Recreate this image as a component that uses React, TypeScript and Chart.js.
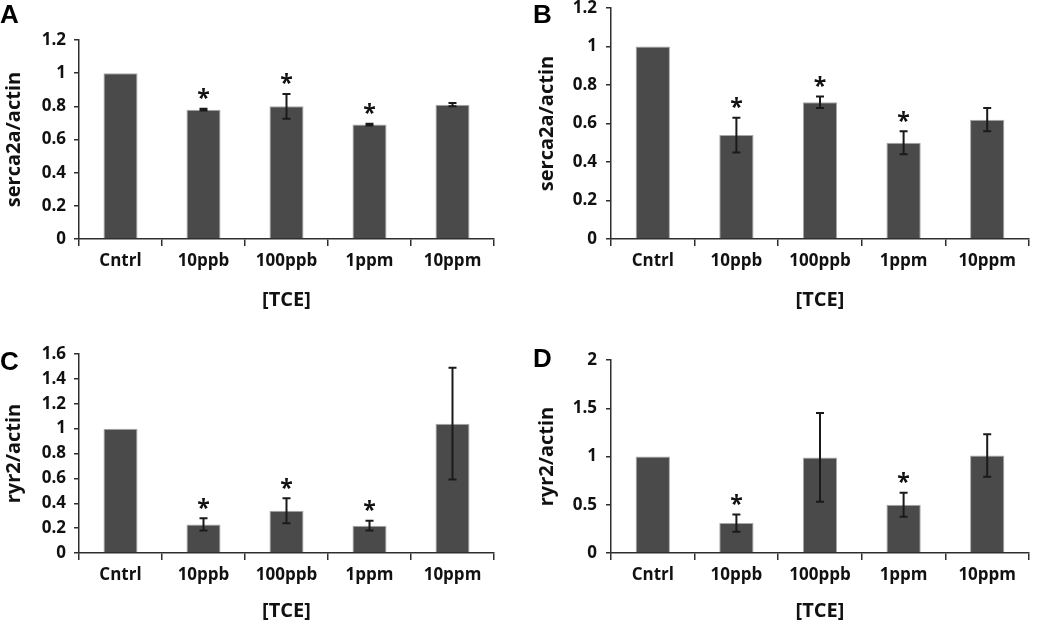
import React, { useEffect, useRef } from "react";
import { Chart, registerables } from "chart.js";

Chart.register(...registerables);

const categories = ["Cntrl", "10ppb", "100ppb", "1ppm", "10ppm"];

const serca2aA = [1.0, 0.78, 0.8, 0.69, 0.81];
const serca2aAErr = [0, 0.005, 0.075, 0.005, 0.01];
const serca2aASig = [false, true, true, true, false];

const serca2aB = [1.0, 0.54, 0.71, 0.5, 0.62];
const serca2aBErr = [0, 0.09, 0.03, 0.06, 0.06];
const serca2aBSig = [false, true, true, true, false];

const ryr2C = [1.0, 0.23, 0.34, 0.22, 1.04];
const ryr2CErr = [0, 0.05, 0.1, 0.04, 0.45];
const ryr2CSig = [false, true, true, true, false];

const ryr2D = [1.0, 0.31, 0.99, 0.5, 1.01];
const ryr2DErr = [0, 0.09, 0.46, 0.125, 0.22];
const ryr2DSig = [false, true, false, true, false];

const xTitle = "[TCE]";

type PanelCfg = {
  letter: string;
  values: number[];
  errors: number[];
  sig: boolean[];
  yTitle: string;
  yMax: number;
  yStep: number;
  canvas: { left: number; top: number; w: number; h: number };
  area: { left: number; top: number; right: number; bottom: number };
  tickPad: number;
  letterPos: { left: number; top: number };
};

const panels: PanelCfg[] = [
  {
    letter: "A",
    values: serca2aA,
    errors: serca2aAErr,
    sig: serca2aASig,
    yTitle: "serca2a/actin",
    yMax: 1.2,
    yStep: 0.2,
    canvas: { left: 0, top: 0, w: 520, h: 312 },
    area: { left: 79, top: 40, right: 494, bottom: 239 },
    tickPad: 8,
    letterPos: { left: 0, top: 0 },
  },
  {
    letter: "B",
    values: serca2aB,
    errors: serca2aBErr,
    sig: serca2aBSig,
    yTitle: "serca2a/actin",
    yMax: 1.2,
    yStep: 0.2,
    canvas: { left: 533, top: 0, w: 517, h: 312 },
    area: { left: 78, top: 8, right: 496, bottom: 239 },
    tickPad: 9,
    letterPos: { left: 533, top: 0 },
  },
  {
    letter: "C",
    values: ryr2C,
    errors: ryr2CErr,
    sig: ryr2CSig,
    yTitle: "ryr2/actin",
    yMax: 1.6,
    yStep: 0.2,
    canvas: { left: 0, top: 312, w: 520, h: 311 },
    area: { left: 79, top: 42, right: 494, bottom: 241 },
    tickPad: 8,
    letterPos: { left: 0, top: 347 },
  },
  {
    letter: "D",
    values: ryr2D,
    errors: ryr2DErr,
    sig: ryr2DSig,
    yTitle: "ryr2/actin",
    yMax: 2,
    yStep: 0.5,
    canvas: { left: 533, top: 312, w: 517, h: 311 },
    area: { left: 78, top: 48, right: 496, bottom: 241 },
    tickPad: 9,
    letterPos: { left: 533, top: 344 },
  },
];

const FONT = "'Open Sans', Lato, sans-serif";
const AXIS = "#2e2e2e";

function Panel({ cfg }: { cfg: PanelCfg }) {
  const ref = useRef<HTMLCanvasElement | null>(null);
  useEffect(() => {
    if (!ref.current) return;
    const errPlugin = {
      id: "errbars",
      afterDatasetsDraw(chart: any) {
        const ctx = chart.ctx;
        const meta = chart.getDatasetMeta(0);
        const y = chart.scales.y;
        ctx.save();
        meta.data.forEach((bar: any, i: number) => {
          const v = cfg.values[i];
          const e = cfg.errors[i];
          const x = bar.x;
          const yTop = y.getPixelForValue(v + e);
          if (e > 0) {
            const yBot = y.getPixelForValue(v - e);
            ctx.strokeStyle = "#1a1a1a";
            ctx.lineWidth = 2;
            ctx.beginPath();
            ctx.moveTo(x, yTop);
            ctx.lineTo(x, yBot);
            ctx.moveTo(x - 4, yTop);
            ctx.lineTo(x + 4, yTop);
            ctx.moveTo(x - 4, yBot);
            ctx.lineTo(x + 4, yBot);
            ctx.stroke();
          }
          if (cfg.sig[i]) {
            ctx.font = "bold 30px " + FONT;
            const m0 = ctx.measureText("*");
            const w0 = m0.actualBoundingBoxLeft + m0.actualBoundingBoxRight || 12;
            const size = Math.round((30 * 12.5) / w0);
            ctx.font = "bold " + size + "px " + FONT;
            ctx.fillStyle = "#111";
            ctx.textAlign = "center";
            ctx.textBaseline = "alphabetic";
            const m = ctx.measureText("*");
            const asc = m.actualBoundingBoxAscent;
            const desc = m.actualBoundingBoxDescent;
            const cy = yTop - 15;
            ctx.fillText("*", x, cy + (asc - desc) / 2);
          }
        });
        ctx.restore();
      },
    };
    const chart = new Chart(ref.current, {
      type: "bar",
      data: {
        labels: categories,
        datasets: [
          {
            data: cfg.values,
            backgroundColor: "#4a4a4a",
            borderColor: "#a8a8a8",
            borderWidth: 1,
            barPercentage: 0.41,
            categoryPercentage: 1,
          },
        ],
      },
      options: {
        animation: false,
        responsive: false,
        devicePixelRatio: 1,
        layout: {
          padding: {
            left: 0,
            top: cfg.area.top,
            right: cfg.canvas.w - cfg.area.right,
            bottom: 0,
          },
        },
        plugins: {
          legend: { display: false },
          tooltip: { enabled: false },
        },
        scales: {
          x: {
            offset: true,
            grid: {
              offset: true,
              drawOnChartArea: false,
              drawTicks: true,
              tickLength: 7,
              color: AXIS,
              lineWidth: 1.5,
            },
            border: { display: true, color: AXIS, width: 1.5 },
            ticks: {
              color: "#111",
              padding: 5,
              font: { family: FONT, size: 17, weight: "bold" },
              maxRotation: 0,
            },
            title: {
              display: true,
              text: xTitle,
              color: "#111",
              font: { family: FONT, size: 20, weight: "bold" },
              padding: 0,
            },
            afterFit: (s: any) => {
              s.height = cfg.canvas.h - cfg.area.bottom;
              s.paddingLeft = 0;
              s.paddingRight = 0;
            },
          },
          y: {
            min: 0,
            max: cfg.yMax,
            grid: {
              drawOnChartArea: false,
              drawTicks: true,
              tickLength: 5,
              color: AXIS,
              lineWidth: 1.5,
            },
            border: { display: true, color: AXIS, width: 1.5 },
            ticks: {
              stepSize: cfg.yStep,
              color: "#111",
              padding: cfg.tickPad,
              font: { family: FONT, size: 17, weight: "bold" },
              callback: (v: any) => String(Math.round(Number(v) * 10) / 10),
            },
            title: {
              display: true,
              text: cfg.yTitle,
              color: "#111",
              font: { family: FONT, size: 20, weight: "bold" },
              padding: 2,
            },
            afterFit: (s: any) => {
              s.width = cfg.area.left;
              s.paddingTop = 0;
              s.paddingBottom = 0;
            },
          },
        },
      },
      plugins: [errPlugin],
    } as any);
    return () => chart.destroy();
  }, [cfg]);
  return (
    <>
      <canvas
        ref={ref}
        width={cfg.canvas.w}
        height={cfg.canvas.h}
        style={{
          position: "absolute",
          left: cfg.canvas.left,
          top: cfg.canvas.top,
          width: cfg.canvas.w,
          height: cfg.canvas.h,
        }}
      />
      <div
        style={{
          position: "absolute",
          left: cfg.letterPos.left,
          top: cfg.letterPos.top,
          font: "bold 26px 'Liberation Sans', Arial, sans-serif",
          color: "#000",
          lineHeight: "28px",
        }}
      >
        {cfg.letter}
      </div>
    </>
  );
}

export default function App() {
  return (
    <div
      style={{
        position: "fixed",
        left: 0,
        top: 0,
        width: 1050,
        height: 623,
        background: "#fff",
        overflow: "hidden",
      }}
    >
      {panels.map((p) => (
        <Panel key={p.letter} cfg={p} />
      ))}
    </div>
  );
}
